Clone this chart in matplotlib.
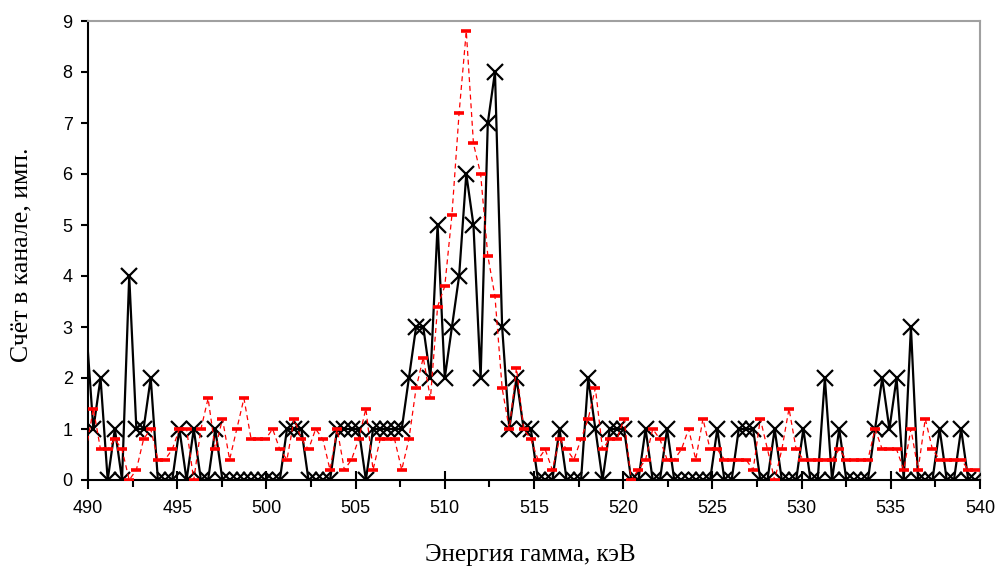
import numpy as np
import matplotlib
matplotlib.use('Agg')
import matplotlib.pyplot as plt
from matplotlib.ticker import MultipleLocator

# channel energies (keV), linear calibration of the spectrometer: first channel 490.3 keV, step 0.402 keV
channel = np.arange(-1, 124)
energy = 490.30 + 0.402 * channel

# measured counts per channel (black, crosses)
counts = [3,
          1, 2, 0, 1, 0, 4, 1, 1, 2, 0,
          0, 0, 1, 0, 1, 0, 0, 1, 0, 0,
          0, 0, 0, 0, 0, 0, 0, 1, 1, 1,
          0, 0, 0, 0, 1, 1, 1, 1, 0, 1,
          1, 1, 1, 1, 2, 3, 3, 2, 5, 2,
          3, 4, 6, 5, 2, 7, 8, 3, 1, 2,
          1, 1, 0, 0, 0, 1, 0, 0, 0, 2,
          1, 0, 1, 1, 1, 0, 0, 1, 0, 0,
          1, 0, 0, 0, 0, 0, 0, 1, 0, 0,
          1, 1, 1, 0, 0, 1, 0, 0, 0, 1,
          0, 0, 2, 0, 1, 0, 0, 0, 0, 1,
          2, 1, 2, 0, 3, 0, 0, 0, 1, 0,
          0, 1, 0, 0]

# second spectrum (red dashes), averaged
averaged = [0.6,
            1.4, 0.6, 0.6, 0.8, 0.6, 0.0, 0.2, 0.8, 1.0, 0.4,
            0.4, 0.6, 1.0, 1.0, 0.0, 1.0, 1.6, 0.6, 1.2, 0.4,
            1.0, 1.6, 0.8, 0.8, 0.8, 1.0, 0.6, 0.4, 1.2, 0.8,
            0.6, 1.0, 0.8, 0.2, 1.0, 0.2, 0.4, 0.8, 1.4, 0.2,
            0.8, 0.8, 0.8, 0.2, 0.8, 1.8, 2.4, 1.6, 3.4, 3.8,
            5.2, 7.2, 8.8, 6.6, 6.0, 4.4, 3.6, 1.8, 1.0, 2.2,
            1.0, 0.8, 0.4, 0.6, 0.2, 0.8, 0.6, 0.4, 0.8, 1.2,
            1.8, 0.6, 0.8, 0.8, 1.2, 0.0, 0.2, 0.4, 1.0, 0.8,
            0.4, 0.4, 0.6, 1.0, 0.4, 1.2, 0.6, 0.6, 0.4, 0.4,
            0.4, 0.4, 0.2, 1.2, 0.6, 0.0, 0.6, 1.4, 0.6, 0.4,
            0.4, 0.4, 0.4, 0.4, 0.6, 0.4, 0.4, 0.4, 0.4, 1.0,
            0.6, 0.6, 0.6, 0.2, 1.0, 0.2, 1.2, 0.6, 0.4, 0.4,
            0.4, 0.4, 0.2, 0.2]

fig = plt.figure(figsize=(9.98, 5.69), dpi=100)
ax = fig.add_axes([88/998, 1 - 480/569, (980 - 88)/998, (480 - 21)/569])

# the first channel lies left of 490 keV: only its line segment shows
ax.plot(energy, counts, color='black', lw=1.6, marker='x', ms=12, mew=1.6,
        markevery=slice(1, None), zorder=3)
ax.plot(energy, averaged, color='red', lw=0.9, ls=(0, (4, 3)), marker='_',
        ms=7, mew=2.6, markevery=slice(1, None), zorder=4)

ax.set_xlim(490, 540)
ax.set_ylim(0, 9)
ax.xaxis.set_major_locator(MultipleLocator(5))
ax.xaxis.set_minor_locator(MultipleLocator(2.5))
ax.yaxis.set_major_locator(MultipleLocator(1))

for side in ['top', 'right']:
    ax.spines[side].set_color('#a0a0a0')
    ax.spines[side].set_linewidth(1.5)
for side in ['left', 'bottom']:
    ax.spines[side].set_color('black')
    ax.spines[side].set_linewidth(1.5)

ax.tick_params(axis='x', which='major', direction='inout', length=13, width=1.5, pad=8)
ax.tick_params(axis='x', which='minor', direction='out', length=5, width=1.5)
ax.tick_params(axis='y', which='major', direction='out', length=5, width=1.5, pad=6)
ax.tick_params(labelsize=13)
for lab in ax.get_xticklabels() + ax.get_yticklabels():
    lab.set_family('Liberation Sans')

fig.text(530/998, 1 - 555/569, 'Энергия гамма, кэВ', family='Liberation Serif',
         fontsize=18, ha='center', va='center')
fig.text(21/998, 1 - 255/569, 'Счёт в канале, имп.', family='Liberation Serif',
         fontsize=18.5, ha='center', va='center', rotation=90)

fig.savefig('out.png', dpi=100)
